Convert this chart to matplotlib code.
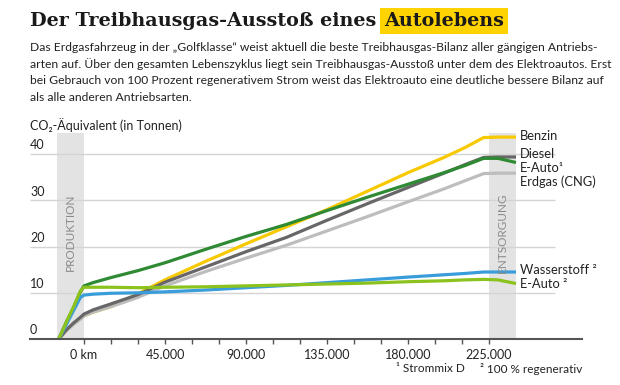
import matplotlib
matplotlib.use("Agg")
import matplotlib.pyplot as plt

# km driven (negative = production phase)
km = [-14000, -10000, -6000, -2000, 0, 5000, 15000, 30000, 45000, 67500,
      90000, 112500, 135000, 157500, 180000, 200000, 212000, 222000, 230000, 240000]

benzin = [0, 1.8, 3.2, 4.4, 5.0, 5.8, 7.0, 9.8, 12.8, 16.8,
          20.6, 24.3, 28.0, 32.0, 36.0, 39.3, 41.5, 43.6, 43.7, 43.7]
diesel = [0, 1.9, 3.4, 4.7, 5.4, 6.3, 7.6, 9.6, 12.3, 15.6,
          18.9, 22.0, 25.7, 29.3, 32.8, 35.9, 37.8, 39.3, 39.4, 39.4]
erdgas = [0, 1.7, 3.1, 4.3, 5.0, 5.8, 7.0, 9.0, 11.5, 14.6,
          17.5, 20.3, 23.4, 26.5, 29.7, 32.5, 34.3, 35.8, 35.9, 35.9]
eauto_mix = [0, 3.5, 6.6, 10.2, 11.5, 12.2, 13.3, 14.8, 16.5, 19.4,
             22.2, 24.8, 27.8, 30.7, 33.5, 36.0, 37.6, 39.1, 39.1, 38.2]
wasserstoff = [0, 3.0, 6.0, 9.0, 9.5, 9.7, 9.9, 10.0, 10.2, 10.6,
               11.1, 11.6, 12.2, 12.8, 13.4, 13.9, 14.2, 14.5, 14.5, 14.5]
eauto_reg = [0, 3.5, 6.8, 10.4, 11.2, 11.2, 11.2, 11.1, 11.2, 11.3,
             11.5, 11.7, 11.9, 12.1, 12.4, 12.6, 12.8, 12.9, 12.8, 12.0]

y_ticks = [0, 10, 20, 30, 40]
x_major = [0, 45000, 90000, 135000, 180000, 225000]
x_labels = ["0 km", "45.000", "90.000", "135.000", "180.000", "225.000"]

series = [
    (benzin, "#f7c900", "Benzin"),
    (erdgas, "#bdbdbd", "Erdgas (CNG)"),
    (diesel, "#676767", "Diesel"),
    (eauto_mix, "#2f8a34", "E-Auto\u00b9"),
    (wasserstoff, "#3a9ddb", "Wasserstoff \u00b2"),
    (eauto_reg, "#8cc21e", "E-Auto \u00b2"),
]

SANS = ["Lato", "DejaVu Sans"]
TXT = "#222222"

fig = plt.figure(figsize=(6.2, 3.85), dpi=100)

# axes placed so that 0 km sits at x=84px and 0 t at y=339px
x0, x1 = -30000, 276667
ax = fig.add_axes([30 / 620, 46 / 385, 552 / 620, 44.5 * 4.62 / 385])
ax.set_xlim(x0, x1)
ax.set_ylim(0, 44.5)

ax.axvspan(-15000, 0, color="#e3e3e3", lw=0, zorder=0)
ax.axvspan(225000, 240000, color="#e3e3e3", lw=0, zorder=0)
ax.hlines([10, 20, 30, 40], x0, 261700, color="#d4d4d4", lw=1.0, zorder=0.5)

for vals, col, name in series:
    ax.plot(km, vals, color=col, lw=2.3, solid_capstyle="butt", zorder=2)

for s in ["top", "right", "left"]:
    ax.spines[s].set_visible(False)
ax.spines["bottom"].set_color("#555555")
ax.spines["bottom"].set_linewidth(1.5)
ax.set_yticks([])
ax.set_xticks(x_major)
ax.set_xticklabels(x_labels, fontsize=9, family=SANS, color=TXT)
ax.set_xticks(range(0, 225001, 15000), minor=True)
ax.tick_params(axis="x", which="both", length=3.5, width=1, color="#555555", pad=4)

for v in y_ticks:
    ax.text(x0, v + 0.6, str(v), fontsize=9, family=SANS, color=TXT, va="bottom", ha="left")

ax.text(-7500, 23, "PRODUKTION", rotation=90, fontsize=8.5, family=SANS,
        color="#8a8a8a", ha="center", va="center")
ax.text(232500, 23, "ENTSORGUNG", rotation=90, fontsize=8.5, family=SANS,
        color="#8a8a8a", ha="center", va="center")

# end labels
lab_y = {"Benzin": 44.0, "Diesel": 40.0, "E-Auto\u00b9": 37.1, "Erdgas (CNG)": 34.1,
         "Wasserstoff \u00b2": 14.9, "E-Auto \u00b2": 11.8}
for vals, col, name in series:
    ax.text(242300, lab_y[name], name, fontsize=9.3, family=SANS, color=TXT,
            ha="left", va="center", clip_on=False)

# title, second word highlighted
t1 = fig.text(30 / 620, 1 - 26 / 385, "Der Treibhausgas-Ausstoß eines", fontsize=13.8,
              family="DejaVu Serif", fontweight="bold", color="#1a1a1a")
fig.canvas.draw()
bb = t1.get_window_extent()
fig.text((bb.x1 + 8) / 620, 1 - 26 / 385, "Autolebens", fontsize=13.8, family="DejaVu Serif",
         fontweight="bold", color="#1a1a1a",
         bbox=dict(boxstyle="square,pad=0.2", fc="#ffd300", ec="none"))

sub = ("Das Erdgasfahrzeug in der \u201eGolfklasse\u201c weist aktuell die beste Treibhausgas-Bilanz aller g\u00e4ngigen Antriebs-\n"
       "arten auf. \u00dcber den gesamten Lebenszyklus liegt sein Treibhausgas-Aussto\u00df unter dem des Elektroautos. Erst\n"
       "bei Gebrauch von 100 Prozent regenerativem Strom weist das Elektroauto eine deutliche bessere Bilanz auf\n"
       "als alle anderen Antriebsarten.")
fig.text(30 / 620, 1 - 42 / 385, sub, fontsize=8.75, family=SANS, color=TXT,
         va="top", ha="left", linespacing=1.56)

fig.text(30 / 620, 1 - 125 / 385, "CO\u2082-\u00c4quivalent (in Tonnen)", fontsize=9,
         family=SANS, color=TXT, va="center", ha="left")

fig.text(465 / 620, 1 - 369 / 385, "\u00b9 Strommix D", fontsize=8.5, family=SANS,
         color=TXT, va="center", ha="right")
fig.text(582 / 620, 1 - 369 / 385, "\u00b2 100 % regenerativ", fontsize=8.5, family=SANS,
         color=TXT, va="center", ha="right")

fig.savefig("out.png", dpi=100)
